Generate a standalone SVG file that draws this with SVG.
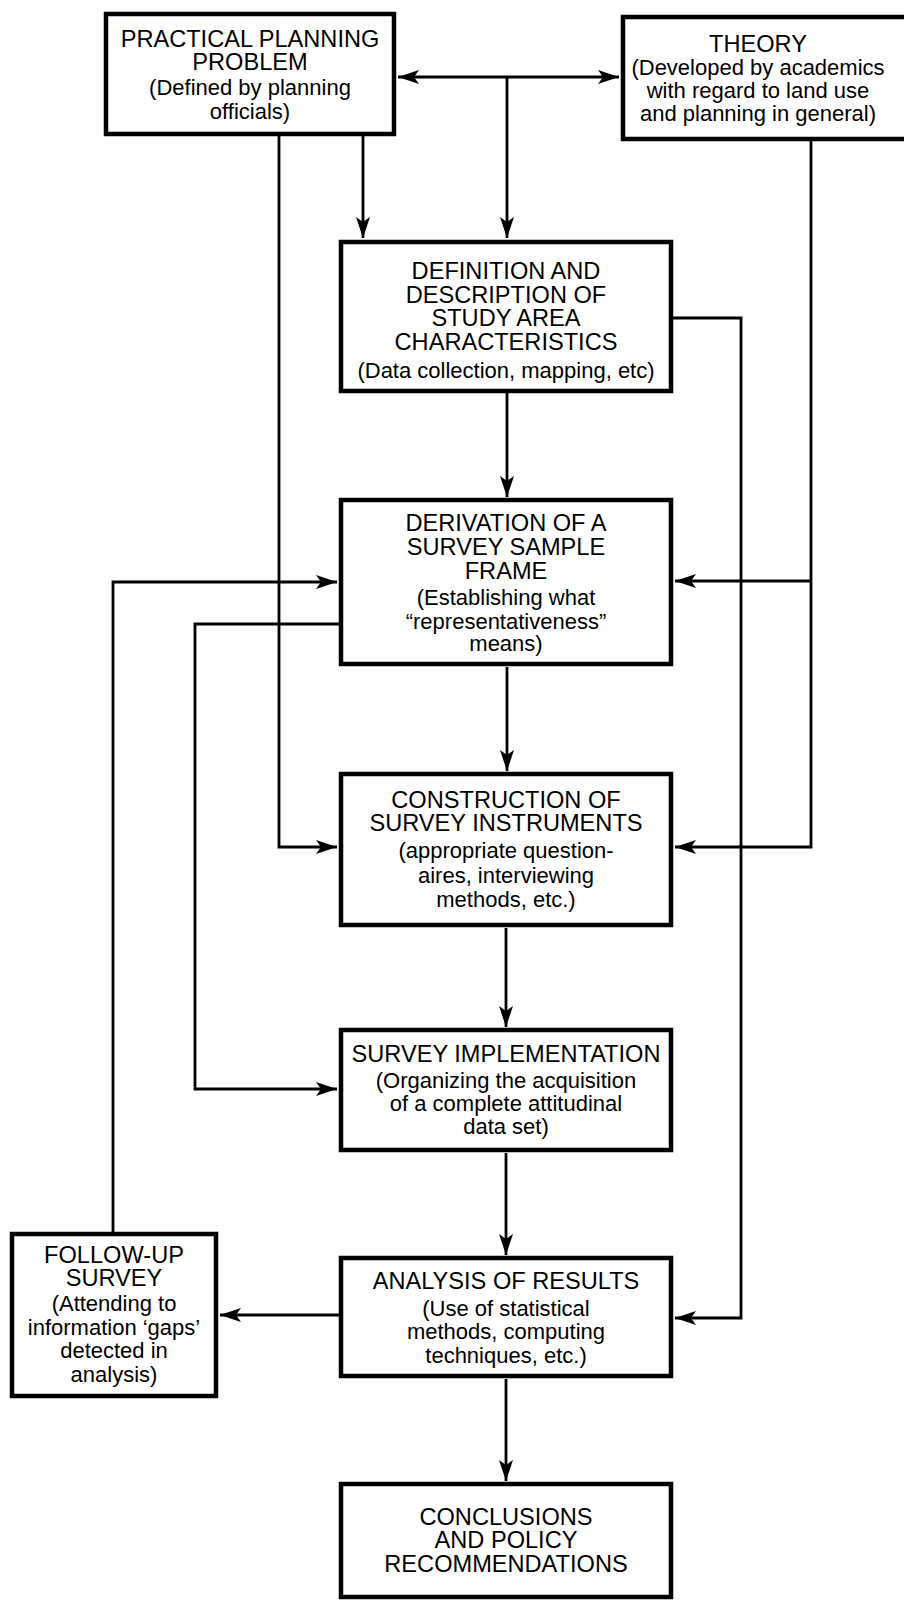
<svg xmlns="http://www.w3.org/2000/svg" width="904" height="1600" viewBox="0 0 904 1600">
<style>
.box{fill:#fff;stroke:#000;stroke-width:4.5}
.t{font-family:"Liberation Sans",Arial,sans-serif;font-size:23.6px;fill:#000;text-anchor:middle}
.s{font-family:"Liberation Sans",Arial,sans-serif;font-size:22px;fill:#000;text-anchor:middle}
.c{fill:none;stroke:#000;stroke-width:2.8}
</style>
<defs>
<marker id="ah" viewBox="0 0 21 14" refX="21" refY="7" markerWidth="21" markerHeight="14" orient="auto-start-reverse" markerUnits="userSpaceOnUse">
<path d="M0,0 L21,7 L0,14 L5,7 z" fill="#000"/>
</marker>
</defs>
<rect width="904" height="1600" fill="#fff"/>
<g id="connectors">
<path class="c" d="M398,77 L619,77" marker-start="url(#ah)" marker-end="url(#ah)"/>
<path class="c" d="M507,77 L507,238" marker-end="url(#ah)"/>
<path class="c" d="M363,136 L363,238" marker-end="url(#ah)"/>
<path class="c" d="M279,136 L279,847 L337,847" marker-end="url(#ah)"/>
<path class="c" d="M811,141 L811,847 L675,847" marker-end="url(#ah)"/>
<path class="c" d="M811,581 L675,581" marker-end="url(#ah)"/>
<path class="c" d="M673,318 L741,318 L741,1318 L675,1318" marker-end="url(#ah)"/>
<path class="c" d="M507,393 L507,497" marker-end="url(#ah)"/>
<path class="c" d="M507,667 L507,771" marker-end="url(#ah)"/>
<path class="c" d="M506,928 L506,1027" marker-end="url(#ah)"/>
<path class="c" d="M506,1153 L506,1255" marker-end="url(#ah)"/>
<path class="c" d="M506,1379 L506,1481" marker-end="url(#ah)"/>
<path class="c" d="M339,624 L195,624 L195,1089 L337,1089" marker-end="url(#ah)"/>
<path class="c" d="M113,1232 L113,582 L337,582" marker-end="url(#ah)"/>
<path class="c" d="M339,1315 L220,1315" marker-end="url(#ah)"/>
</g>
<g id="practical">
<rect class="box" x="106" y="14" width="288" height="120"/>
<text class="t" x="250" y="47">PRACTICAL PLANNING</text>
<text class="t" x="250" y="70">PROBLEM</text>
<text class="s" x="250" y="95">(Defined by planning</text>
<text class="s" x="250" y="119">officials)</text>
</g>
<g id="theory">
<rect class="box" x="623" y="17" width="300" height="122"/>
<text class="t" x="758" y="52">THEORY</text>
<text class="s" x="758" y="75">(Developed by academics</text>
<text class="s" x="758" y="98">with regard to land use</text>
<text class="s" x="758" y="121">and planning in general)</text>
</g>
<g id="definition">
<rect class="box" x="341" y="242" width="330" height="149"/>
<text class="t" x="506" y="279">DEFINITION AND</text>
<text class="t" x="506" y="303">DESCRIPTION OF</text>
<text class="t" x="506" y="326">STUDY AREA</text>
<text class="t" x="506" y="350">CHARACTERISTICS</text>
<text class="s" x="506" y="378">(Data collection, mapping, etc)</text>
</g>
<g id="derivation">
<rect class="box" x="341" y="500" width="330" height="164"/>
<text class="t" x="506" y="531">DERIVATION OF A</text>
<text class="t" x="506" y="555">SURVEY SAMPLE</text>
<text class="t" x="506" y="579">FRAME</text>
<text class="s" x="506" y="605">(Establishing what</text>
<text class="s" x="506" y="629">“representativeness”</text>
<text class="s" x="506" y="651">means)</text>
</g>
<g id="construction">
<rect class="box" x="341" y="774" width="330" height="151"/>
<text class="t" x="506" y="808">CONSTRUCTION OF</text>
<text class="t" x="506" y="831">SURVEY INSTRUMENTS</text>
<text class="s" x="506" y="858">(appropriate question-</text>
<text class="s" x="506" y="883">aires, interviewing</text>
<text class="s" x="506" y="907">methods, etc.)</text>
</g>
<g id="implementation">
<rect class="box" x="341" y="1030" width="330" height="120"/>
<text class="t" x="506" y="1062">SURVEY IMPLEMENTATION</text>
<text class="s" x="506" y="1088">(Organizing the acquisition</text>
<text class="s" x="506" y="1111">of a complete attitudinal</text>
<text class="s" x="506" y="1134">data set)</text>
</g>
<g id="analysis">
<rect class="box" x="341" y="1258" width="330" height="118"/>
<text class="t" x="506" y="1289">ANALYSIS OF RESULTS</text>
<text class="s" x="506" y="1316">(Use of statistical</text>
<text class="s" x="506" y="1339">methods, computing</text>
<text class="s" x="506" y="1363">techniques, etc.)</text>
</g>
<g id="followup">
<rect class="box" x="12" y="1234" width="204" height="162"/>
<text class="t" x="114" y="1263">FOLLOW-UP</text>
<text class="t" x="114" y="1286">SURVEY</text>
<text class="s" x="114" y="1311">(Attending to</text>
<text class="s" x="114" y="1335">information ‘gaps’</text>
<text class="s" x="114" y="1358">detected in</text>
<text class="s" x="114" y="1382">analysis)</text>
</g>
<g id="conclusions">
<rect class="box" x="341" y="1484" width="330" height="113"/>
<text class="t" x="506" y="1525">CONCLUSIONS</text>
<text class="t" x="506" y="1548">AND POLICY</text>
<text class="t" x="506" y="1572">RECOMMENDATIONS</text>
</g>
</svg>
